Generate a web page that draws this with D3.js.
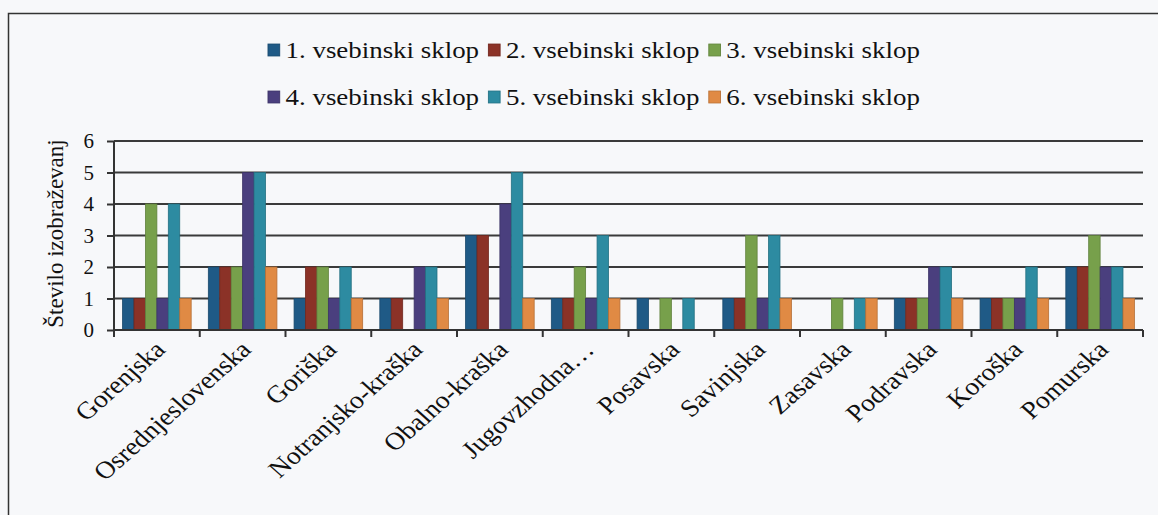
<!DOCTYPE html>
<html>
<head>
<meta charset="utf-8">
<script src="https://cdn.jsdelivr.net/npm/d3@7"></script>
<style>
  body { margin: 0; background: #f7f8fa; }
  svg { display: block; }
</style>
</head>
<body>
<div id="chart"></div>
<script>
// regions and series
const regions = ["Gorenjska", "Osrednjeslovenska", "Goriška", "Notranjsko-kraška", "Obalno-kraška",
  "Jugovzhodna…", "Posavska", "Savinjska", "Zasavska", "Podravska", "Koroška", "Pomurska"];
const seriesNames = ["1. vsebinski sklop", "2. vsebinski sklop", "3. vsebinski sklop",
  "4. vsebinski sklop", "5. vsebinski sklop", "6. vsebinski sklop"];
const sklop1 = [1, 2, 1, 1, 3, 1, 1, 1, 0, 1, 1, 2];
const sklop2 = [1, 2, 2, 1, 3, 1, 0, 1, 0, 1, 1, 2];
const sklop3 = [4, 2, 2, 0, 0, 2, 1, 3, 1, 1, 1, 3];
const sklop4 = [1, 5, 1, 2, 4, 1, 0, 1, 0, 2, 1, 2];
const sklop5 = [4, 5, 2, 2, 5, 3, 1, 3, 1, 2, 2, 2];
const sklop6 = [1, 2, 1, 1, 1, 1, 0, 1, 1, 1, 1, 1];
const yTicks = [0, 1, 2, 3, 4, 5, 6];
const colors = ["#1f5a86", "#8b3227", "#77a04b", "#4a3f7e", "#2d8ba1", "#e08a44"];

const series = [sklop1, sklop2, sklop3, sklop4, sklop5, sklop6];

const FONT = "'Liberation Serif', 'Times New Roman', serif";
const STRETCH = 1.13; // the scan is a bit wider than tall

const W = 1158, H = 515;
const margin = {top: 141, left: 114, right: 15, bottom: 185};
const width = W - margin.left - margin.right;
const height = H - margin.top - margin.bottom;

const svg = d3.select("#chart").append("svg")
  .attr("width", W).attr("height", H);

// outer frame
svg.append("rect")
  .attr("x", 8.5).attr("y", 13.5)
  .attr("width", 1160).attr("height", 520)
  .attr("fill", "none").attr("stroke", "#333").attr("stroke-width", 1.5);

const g = svg.append("g").attr("transform", `translate(${margin.left},${margin.top})`);

const x0 = d3.scaleBand().domain(regions).range([0, width]).paddingInner(0.2).paddingOuter(0.1);
const x1 = d3.scaleBand().domain(d3.range(series.length)).range([0, x0.bandwidth()]);
const xOuter = d3.scaleBand().domain(regions).range([0, width]);
const y = d3.scaleLinear().domain([0, 6]).range([height, 0]);

// gridlines
g.append("g").selectAll("line").data(yTicks.slice(1)).join("line")
  .attr("x1", 0).attr("x2", width)
  .attr("y1", d => y(d)).attr("y2", d => y(d))
  .attr("stroke", "#3a3a3a").attr("stroke-width", 2);

// bars
const groups = g.append("g").selectAll("g").data(regions).join("g")
  .attr("transform", d => `translate(${x0(d)},0)`);

groups.selectAll("rect")
  .data((d, i) => series.map((s, k) => ({k, v: s[i]})).filter(e => e.v > 0))
  .join("rect")
  .attr("x", d => x1(d.k))
  .attr("width", x1.bandwidth())
  .attr("y", d => y(d.v))
  .attr("height", d => y(0) - y(d.v))
  .attr("fill", d => colors[d.k])
  .attr("stroke", d => d3.color(colors[d.k]).darker(0.6))
  .attr("stroke-width", 0.8);

// y axis
const yAxis = g.append("g")
  .call(d3.axisLeft(y).tickValues(yTicks).tickSize(7).tickPadding(13).tickFormat(d3.format("d")));
yAxis.select(".domain").attr("stroke", "#333").attr("stroke-width", 2).attr("d", `M0,${y(6)}V${y(0)}`);
yAxis.selectAll(".tick line").attr("stroke", "#333").attr("stroke-width", 2);
yAxis.selectAll("text")
  .style("font-size", "21px").style("font-family", FONT).attr("fill", "#111");

// x axis with boundary ticks
const xg = g.append("g").attr("transform", `translate(0,${height})`);
xg.append("line").attr("x1", 0).attr("x2", width).attr("stroke", "#333").attr("stroke-width", 2);
const bounds = regions.map(r => xOuter(r)).concat([width]);
xg.selectAll(".bt").data(bounds).join("line")
  .attr("x1", d => d).attr("x2", d => d)
  .attr("y1", 0).attr("y2", 7)
  .attr("stroke", "#333").attr("stroke-width", 2);

xg.selectAll(".lbl").data(regions).join("text")
  .attr("transform", d => `translate(${xOuter(d) + xOuter.bandwidth() / 2 + 3},15) scale(${STRETCH},1) rotate(-45)`)
  .attr("text-anchor", "end")
  .attr("dy", "0.35em")
  .style("font-size", "24.5px")
  .style("font-family", FONT)
  .attr("fill", "#111")
  .text(d => d);

// y axis title
svg.append("text")
  .attr("transform", `translate(55,${margin.top + height / 2 - 2}) rotate(-90)`)
  .attr("text-anchor", "middle")
  .attr("dy", "0.35em")
  .style("font-size", "23px")
  .style("font-family", FONT)
  .attr("fill", "#111")
  .text("Število izobraževanj");

// legend, two rows of three
const legend = svg.append("g").attr("transform", `translate(268,0) scale(1.17,1)`);
const rows = [[0, 1, 2], [3, 4, 5]];
rows.forEach((row, r) => {
  let cx = 0;
  const cy = r === 0 ? 50 : 97;
  row.forEach(k => {
    legend.append("rect")
      .attr("x", cx).attr("y", cy - 6).attr("width", 10).attr("height", 12)
      .attr("fill", colors[k]).attr("stroke", d3.color(colors[k]).darker(0.5)).attr("stroke-width", 0.8);
    const t = legend.append("text")
      .attr("x", cx + 15).attr("y", cy).attr("dy", "0.35em")
      .style("font-size", "23px")
      .style("font-family", FONT)
      .attr("fill", "#111")
      .text(seriesNames[k]);
    cx += 15 + t.node().getComputedTextLength() + 8;
  });
});
</script>
</body>
</html>
